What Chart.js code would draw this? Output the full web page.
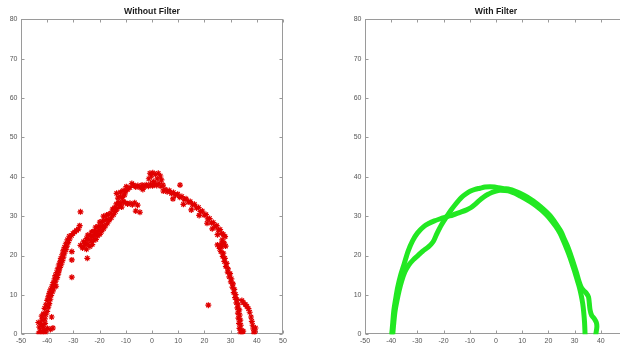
<!DOCTYPE html>
<html><head><meta charset="utf-8">
<script src="https://cdn.jsdelivr.net/npm/chart.js@4/dist/chart.umd.min.js"></script>
<style>
html,body{margin:0;padding:0;width:620px;height:347px;overflow:hidden;background:#fff;}
#c1{position:absolute;left:0;top:0;width:310px;height:347px;}
#c2{position:absolute;left:310px;top:0;width:340px;height:347px;}
</style></head><body>
<canvas id="c1" width="310" height="347"></canvas>
<canvas id="c2" width="340" height="347"></canvas>
<script>
// ---- data ----
const titles = ["Without Filter", "With Filter"];
const xRange = [-50, 50], yRange = [0, 80], xStep = 10, yStep = 10;

// red asterisks (Without Filter)
const redLeftBand = [[-43.2,0.3],[-42.5,0.8],[-41.8,0.2],[-41.2,1.0],[-40.6,0.4],[-43.0,1.8],[-42.2,2.5],[-41.5,1.9],[-40.8,2.8],[-39.9,1.5],[-38.8,1.2],[-37.8,1.6],[-43.4,3.0],[-42.0,3.6],[-40.9,3.9],[-38.3,4.4],[-42.1,4.6],
 [-41.5,5.2],[-40.6,5.0],[-40.0,5.8],[-41.0,6.6],[-39.6,6.9],[-40.5,7.5],[-39.2,7.8],[-40.0,8.6],[-38.8,8.9],[-39.6,9.5],[-38.5,9.9],[-39.2,10.4],[-38.0,10.8],
 [-38.8,11.3],[-37.6,11.5],[-38.2,12.2],[-37.3,12.6],[-36.6,12.2],[-37.7,13.1],[-36.8,13.5],[-37.2,14.1],[-36.2,14.4],[-36.9,14.9],[-35.8,15.3],
 [-36.4,15.7],[-35.5,16.1],[-36.0,16.6],[-35.1,17.0],[-35.6,17.6],[-34.6,17.8],[-35.1,18.4],[-34.2,18.7],[-34.8,19.3],[-33.8,19.6],[-34.3,20.2],
 [-33.4,20.6],[-33.9,21.2],[-32.9,21.5],[-33.4,22.1],[-32.5,22.4],[-32.9,23.0],[-32.0,23.3],[-32.3,24.0],[-31.4,24.2],[-31.6,24.9],[-30.7,25.1],[-30.2,25.6],[-29.5,26.0],[-28.8,26.4],[-28.1,26.7],[-27.6,27.6]];
const redUpperCluster = [[-27.3,22.6],[-26.5,21.9],[-25.8,22.5],[-25.0,21.6],[-26.2,23.5],[-25.4,23.2],[-24.5,22.9],[-23.7,22.3],[-22.8,22.8],[-25.0,24.3],[-24.1,24.0],[-23.2,23.7],[-22.3,23.9],[-21.4,24.1],[-24.5,25.2],[-23.5,25.0],[-22.6,24.8],[-21.7,25.3],[-20.8,25.0],[-19.9,25.4],[-23.0,26.0],[-22.0,26.2],[-21.0,26.0],[-20.2,26.4],[-19.3,26.1],[-18.5,26.8],[-21.5,27.2],[-20.5,27.4],[-19.6,27.3],[-18.8,27.7],[-17.8,27.5],[-17.0,28.2],[-19.9,28.5],[-18.9,28.7],[-18.0,28.9],[-17.2,29.2],[-16.3,29.0],[-15.5,29.6],[-18.5,30.0],[-17.3,30.3],[-16.5,30.5],[-15.6,30.8],[-14.7,30.4],[-13.9,31.2],
 [-15.0,31.8],[-14.2,32.2],[-13.3,31.9],[-12.5,32.6],[-11.6,32.3],[-13.6,33.1],[-12.7,33.5],[-11.8,33.3],[-11.0,33.8],[-10.2,33.4],[-9.3,33.1],[-8.4,33.3],[-7.5,32.9],[-6.6,33.4],[-5.5,32.8],[-4.6,31.0],[-6.2,31.3],[-13.0,34.6],[-12.2,35.0],[-11.3,34.8],[-10.5,35.4],[-13.5,35.8],[-12.0,36.1],[-11.0,36.5],[-10.1,36.3],[-9.3,36.8],[-8.4,37.3],[-9.8,37.5],[-7.7,38.3]];
const redArcTop = [[-7.0,37.9],[-6.2,37.4],[-5.4,37.8],[-4.6,37.3],[-3.8,37.9],[-3.0,37.5],[-2.2,38.0],[-1.4,37.6],[-0.6,38.1],[0.2,37.7],[1.0,38.2],[1.8,37.8],[2.6,38.3],[3.4,37.6],[4.2,37.9],[-1.2,39.5],[-0.3,40.2],[-0.8,40.9],[0.3,41.0],[1.3,40.6],[2.4,40.9],[3.2,40.2],[2.0,39.5],[0.5,38.8],[3.6,39.2],[4.3,36.4],[-3.5,36.8]];
const redRightArc = [[5.0,36.8],[5.8,36.2],[6.6,36.5],[7.4,35.8],[8.2,36.0],[9.0,35.4],[9.8,35.6],[10.6,34.8],[11.4,35.0],[12.2,34.3],[13.0,34.4],[13.8,33.6],[14.6,33.7],[15.4,32.9],[16.2,33.0],[17.0,32.1],[17.8,32.2],[18.5,31.2],[19.2,31.3],[19.9,30.3],[20.6,30.4],[21.3,29.3],[22.0,29.4],[22.7,28.3],[23.4,28.4],[24.0,27.3],[24.7,27.6],[25.3,26.5],[26.0,26.6],[26.6,25.6],[27.2,25.4],[27.9,24.8],[26.8,24.0],[27.5,23.2],[28.1,22.4],[26.0,22.2],[26.5,23.0],
 [8.0,34.4],[12.0,33.0],[15.0,31.6],[18.0,30.2],[21.0,28.2],[23.0,26.8],[25.0,25.3]];
const redRightDrop = [[25.0,22.7],[25.8,21.8],[26.6,22.3],[26.3,21.0],[27.2,20.6],[27.0,19.8],[27.8,19.3],[27.6,18.5],[28.5,18.0],[28.2,17.2],[29.0,16.6],[28.9,15.8],[29.8,15.4],[29.5,14.6],[30.3,14.1],[30.1,13.3],[30.9,12.8],[30.7,12.0],[31.4,11.4],[31.2,10.6],[31.9,10.1],[31.7,9.3],[32.4,8.8],[32.2,8.0],[32.9,7.5],[32.6,6.7],[33.3,6.2],[32.8,5.4],[33.5,4.9],[33.0,4.1],[33.7,3.6],[33.2,2.8],[33.9,2.3],[33.4,1.5],[34.1,1.0],[33.7,0.4],[34.4,0.2],[34.8,0.8],
 [34.3,8.6],[34.9,8.0],[35.6,7.6],[36.2,7.1],[36.8,6.5],[37.3,5.6],[37.8,4.4],[38.1,3.3],[38.4,2.3],[38.7,1.4],[39.2,0.6],[39.5,1.6],[38.9,0.3]];
const redOutliers = [[-30.6,14.5],[-30.6,18.9],[-30.6,21.0],[-27.3,31.1],[-24.7,19.3],[10.7,37.9],[21.5,7.4]];

// green circles (With Filter), two traces
const greenCurveA = [[-39.8,0],[-39.4,3],[-39.0,6],[-38.3,9],[-37.5,12],[-36.4,15],[-35.0,18],[-33.5,21.2],[-31.8,23.8],[-30.0,25.7],[-27.7,27.3],[-25.5,28.2],[-23.5,28.8],[-21,29.4],[-18.8,29.9],[-16.5,30.3],[-14,30.9],[-11.2,31.6],[-9.5,32.2],[-8,33],[-6.3,34],[-4.8,34.8],[-3.2,35.5],[-1.6,36],[0,36.4],[1.5,36.6],[3.5,36.5],[5.3,36.3],[7.2,35.8],[9,35.2],[11,34.5],[13,33.7],[15,32.8],[17,31.7],[19.3,30.3],[21,29],[22.8,27.4],[24.4,25.7],[25.8,23.6],[27.1,21.5],[28.2,19.6],[29.2,17.6],[30.2,15.6],[31,13.8],[31.8,12],[32.5,10],[33.1,7.8],[33.5,5.5],[33.8,3],[34,0]];
const greenCurveB = [[-39.4,0],[-39.0,3],[-38.5,6],[-37.8,8.5],[-37.0,11],[-36.0,13.5],[-34.8,15.8],[-33.3,17.6],[-31.6,18.9],[-29.8,20],[-28.0,21.1],[-25.8,22.2],[-24,23.5],[-22.6,25.5],[-20.8,27.8],[-18.8,29.9],[-17.2,31.5],[-15.6,32.9],[-13.1,34.8],[-11.4,35.7],[-9.9,36.3],[-8,36.8],[-6.1,37.1],[-4.2,37.4],[-2.3,37.5],[-0.5,37.4],[0.9,37.2],[3,37.0],[5.3,36.8],[7.2,36.4],[9,35.9],[11,35.2],[13,34.4],[15,33.5],[17,32.4],[19.5,30.9],[21.3,29.6],[23,28],[24.8,26.1],[26.2,24],[27.6,21.9],[28.7,19.8],[29.8,17.6],[30.8,15.5],[31.6,13.6],[32.4,12.1],[33.3,11.2],[34.5,10.4],[35.3,9.5],[35.6,8],[35.9,6.2],[36.5,4.8],[37.5,4],[38.3,3],[38.5,1.9],[38.1,0]];

// ---- styling ----
const RED = '#e00000', GREEN = '#22e822', AXIS = '#9a9a9a', TICKTXT = '#555';
const toXY = arr => arr.map(p => ({x: p[0], y: p[1]}));

const framePlugin = {
  id: 'frame',
  beforeDatasetsDraw(chart) {
    const {ctx, chartArea: a, scales: {x, y}} = chart;
    ctx.save();
    ctx.strokeStyle = AXIS; ctx.lineWidth = 1;
    const L = Math.round(a.left) + 0.5, R = Math.round(a.right) - 0.5,
          T = Math.round(a.top) + 0.5, B = Math.round(a.bottom) - 0.5;
    ctx.strokeRect(L, T, R - L, B - T);
    ctx.beginPath();
    x.ticks.forEach(t => {
      const px = Math.round(x.getPixelForValue(t.value)) + 0.5;
      ctx.moveTo(px, B); ctx.lineTo(px, B - 3);
      ctx.moveTo(px, T); ctx.lineTo(px, T + 3);
    });
    y.ticks.forEach(t => {
      const py = Math.round(y.getPixelForValue(t.value)) + 0.5;
      ctx.moveTo(L, py); ctx.lineTo(L + 3, py);
      ctx.moveTo(R, py); ctx.lineTo(R - 3, py);
    });
    ctx.stroke();
    ctx.restore();
  },
  afterDraw(chart, args, opts) {
    const {ctx, chartArea: a} = chart;
    ctx.save();
    ctx.font = 'bold 8.7px "Liberation Sans", Arial, sans-serif';
    ctx.fillStyle = '#1a1a1a';
    ctx.textAlign = 'center'; ctx.textBaseline = 'middle';
    ctx.fillText(opts.text, (a.left + a.right) / 2, 12);
    ctx.restore();
  }
};

function makeOptions(title, padLeft, padRight) {
  const tickFont = {family: '"Liberation Sans", Arial, sans-serif', size: 7};
  return {
    responsive: false, animation: false, events: [],
    layout: {padding: {left: padLeft, right: padRight, top: 19.3, bottom: 0}},
    plugins: {legend: {display: false}, tooltip: {enabled: false}, title: {display: false}, frame: {text: title}},
    scales: {
      x: {type: 'linear', min: xRange[0], max: xRange[1],
          ticks: {stepSize: xStep, autoSkip: false, maxRotation: 0, color: TICKTXT, font: tickFont, padding: 3},
          grid: {display: false, drawTicks: false}, border: {display: false},
          afterFit(s) { s.height = 12.7; }},
      y: {type: 'linear', min: yRange[0], max: yRange[1],
          ticks: {stepSize: yStep, color: TICKTXT, font: tickFont, padding: 3.5},
          grid: {display: false, drawTicks: false}, border: {display: false},
          afterFit(s) { s.width = 21; }}
    }
  };
}

const redSets = [redLeftBand, redUpperCluster, redArcTop, redRightArc, redRightDrop, redOutliers];
new Chart(document.getElementById('c1'), {
  type: 'scatter',
  data: {datasets: redSets.map(s => ({
    data: toXY(s), pointStyle: 'star', pointRadius: 3, pointBorderWidth: 1.2,
    borderColor: RED, backgroundColor: RED, showLine: false
  }))},
  options: makeOptions(titles[0], 0, 27),
  plugins: [framePlugin]
});

new Chart(document.getElementById('c2'), {
  type: 'scatter',
  data: {datasets: [greenCurveA, greenCurveB].map(s => ({
    data: toXY(s), showLine: true, borderColor: GREEN, borderWidth: 5, tension: 0.3,
    pointRadius: 0, fill: false, borderCapStyle: 'round', borderJoinStyle: 'round'
  }))},
  options: makeOptions(titles[1], 34, 23),
  plugins: [framePlugin]
});
</script>
</body></html>
